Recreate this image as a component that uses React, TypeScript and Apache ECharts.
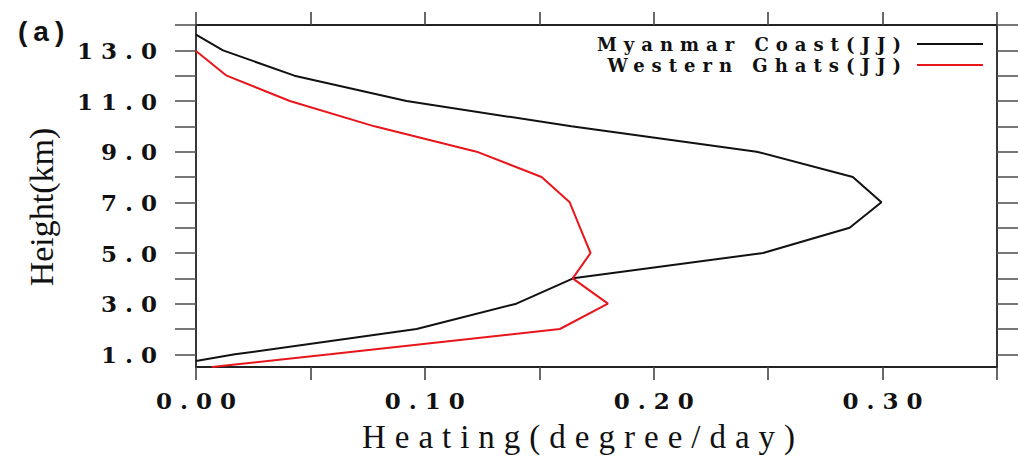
import React, { useEffect, useRef } from "react";
import * as echarts from "echarts";

// ---- data ----
const heightTicks = [1, 2, 3, 4, 5, 6, 7, 8, 9, 10, 11, 12, 13, 14];
const heightLabels = [1, 3, 5, 7, 9, 11, 13];
const heatingTicks = [0, 0.05, 0.1, 0.15, 0.2, 0.25, 0.3, 0.35];
const heatingLabels = [0, 0.1, 0.2, 0.3];

const seriesNames = ["Myanmar Coast(JJ)", "Western Ghats(JJ)"];

const myanmarHeight = [13.62, 13, 12, 11, 10, 9, 8, 7, 6, 5, 4, 3, 2, 1, 0.74];
const myanmarHeating = [0.0, 0.0118, 0.043, 0.092, 0.164, 0.245, 0.287, 0.2995, 0.2856, 0.2478, 0.1648, 0.14, 0.0964, 0.017, 0.0];

const ghatsHeight = [12.97, 12, 11, 10, 9, 8, 7, 6, 5, 4, 3, 2, 1, 0.5];
const ghatsHeating = [0.0, 0.0134, 0.041, 0.078, 0.1226, 0.151, 0.1633, 0.1678, 0.1724, 0.1646, 0.18, 0.159, 0.0585, 0.0069];

const css = `
#heatchart text[style*="23px"] { letter-spacing: 8px; }
#heatchart text[style*="18px"] { letter-spacing: 7px; }
#heatchart text[style*="33px"] { letter-spacing: 9px; }
#heatchart text[style*="28px"] { letter-spacing: 6px; }
`;

export default function App() {
  const ref = useRef<HTMLDivElement>(null);

  useEffect(() => {
    if (!ref.current) return;
    const chart = echarts.init(ref.current, undefined, { renderer: "svg" });

    const zip = (xs: number[], ys: number[]) => xs.map((x, i) => [x, ys[i]]);

    const tickFont = {
      fontFamily: "DejaVu Serif",
      fontWeight: "bold" as const,
      fontSize: 23,
      color: "#111",
    };
    const axisLine = { show: true, onZero: false, lineStyle: { color: "#222", width: 1.8 } };

    chart.setOption({
      animation: false,
      backgroundColor: "#ffffff",
      grid: { left: 196, right: 21, top: 25, bottom: 89, containLabel: false },
      legend: {
        data: seriesNames,
        orient: "vertical",
        right: 35,
        top: 35,
        align: "right",
        icon: "rect",
        itemWidth: 66,
        itemHeight: 2,
        itemGap: 3,
        padding: 0,
        textStyle: {
          fontFamily: "DejaVu Serif",
          fontWeight: "bold",
          fontSize: 18,
          lineHeight: 16,
          color: "#111",
          padding: [0, 4, 0, 0],
        },
      },
      xAxis: [
        {
          type: "value",
          min: 0,
          max: 0.35,
          position: "bottom",
          axisLine,
          splitLine: { show: false },
          axisTick: {
            show: true,
            inside: false,
            length: 13,
            customValues: heatingTicks,
            lineStyle: { color: "#444", width: 1.6 },
          },
          axisLabel: {
            ...tickFont,
            customValues: heatingLabels,
            margin: 22,
            padding: [0, 0, 0, 8],
            formatter: (v: number) => v.toFixed(2),
          },
        },
        {
          type: "value",
          min: 0,
          max: 0.35,
          position: "top",
          axisLine,
          splitLine: { show: false },
          axisTick: {
            show: true,
            inside: false,
            length: 13,
            customValues: heatingTicks,
            lineStyle: { color: "#444", width: 1.6 },
          },
          axisLabel: { show: false },
        },
      ],
      yAxis: [
        {
          type: "value",
          min: 0.5,
          max: 14,
          position: "left",
          axisLine,
          splitLine: { show: false },
          axisTick: {
            show: true,
            inside: false,
            length: 21,
            customValues: heightTicks,
            lineStyle: { color: "#555", width: 1.6 },
          },
          axisLabel: {
            ...tickFont,
            customValues: heightLabels,
            margin: 31,
            formatter: (v: number) => v.toFixed(1),
          },
        },
        {
          type: "value",
          min: 0.5,
          max: 14,
          position: "right",
          axisLine,
          splitLine: { show: false },
          axisTick: {
            show: true,
            inside: false,
            length: 21,
            customValues: heightTicks,
            lineStyle: { color: "#555", width: 1.6 },
          },
          axisLabel: { show: false },
        },
      ],
      graphic: [
        {
          type: "text",
          left: 18,
          top: 17,
          style: {
            text: "(a)",
            fontFamily: "Liberation Sans",
            fontWeight: "bold",
            fontSize: 28,
            fill: "#111",
          },
        },
        {
          type: "text",
          x: 583,
          y: 437,
          style: {
            text: "Heating(degree/day)",
            fontFamily: "Liberation Serif",
            fontSize: 33,
            fill: "#111",
            align: "center",
            verticalAlign: "middle",
          },
        },
        {
          type: "text",
          x: 41,
          y: 207,
          rotation: Math.PI / 2,
          style: {
            text: "Height(km)",
            fontFamily: "Liberation Serif",
            fontSize: 34,
            fill: "#111",
            align: "center",
            verticalAlign: "middle",
          },
        },
      ],
      series: [
        {
          name: seriesNames[0],
          type: "line",
          xAxisIndex: 0,
          yAxisIndex: 0,
          data: zip(myanmarHeating, myanmarHeight),
          color: "#111111",
          symbol: "none",
          showSymbol: false,
          lineStyle: { color: "#111111", width: 2 },
        },
        {
          name: seriesNames[1],
          type: "line",
          xAxisIndex: 0,
          yAxisIndex: 0,
          data: zip(ghatsHeating, ghatsHeight),
          color: "#e8161b",
          symbol: "none",
          showSymbol: false,
          lineStyle: { color: "#e8161b", width: 2 },
        },
      ],
    });

    return () => chart.dispose();
  }, []);

  return (
    <>
      <style>{css}</style>
      <div
        id="heatchart"
        ref={ref}
        style={{ position: "fixed", left: 0, top: 0, width: 1018, height: 456, background: "#fff" }}
      />
    </>
  );
}
